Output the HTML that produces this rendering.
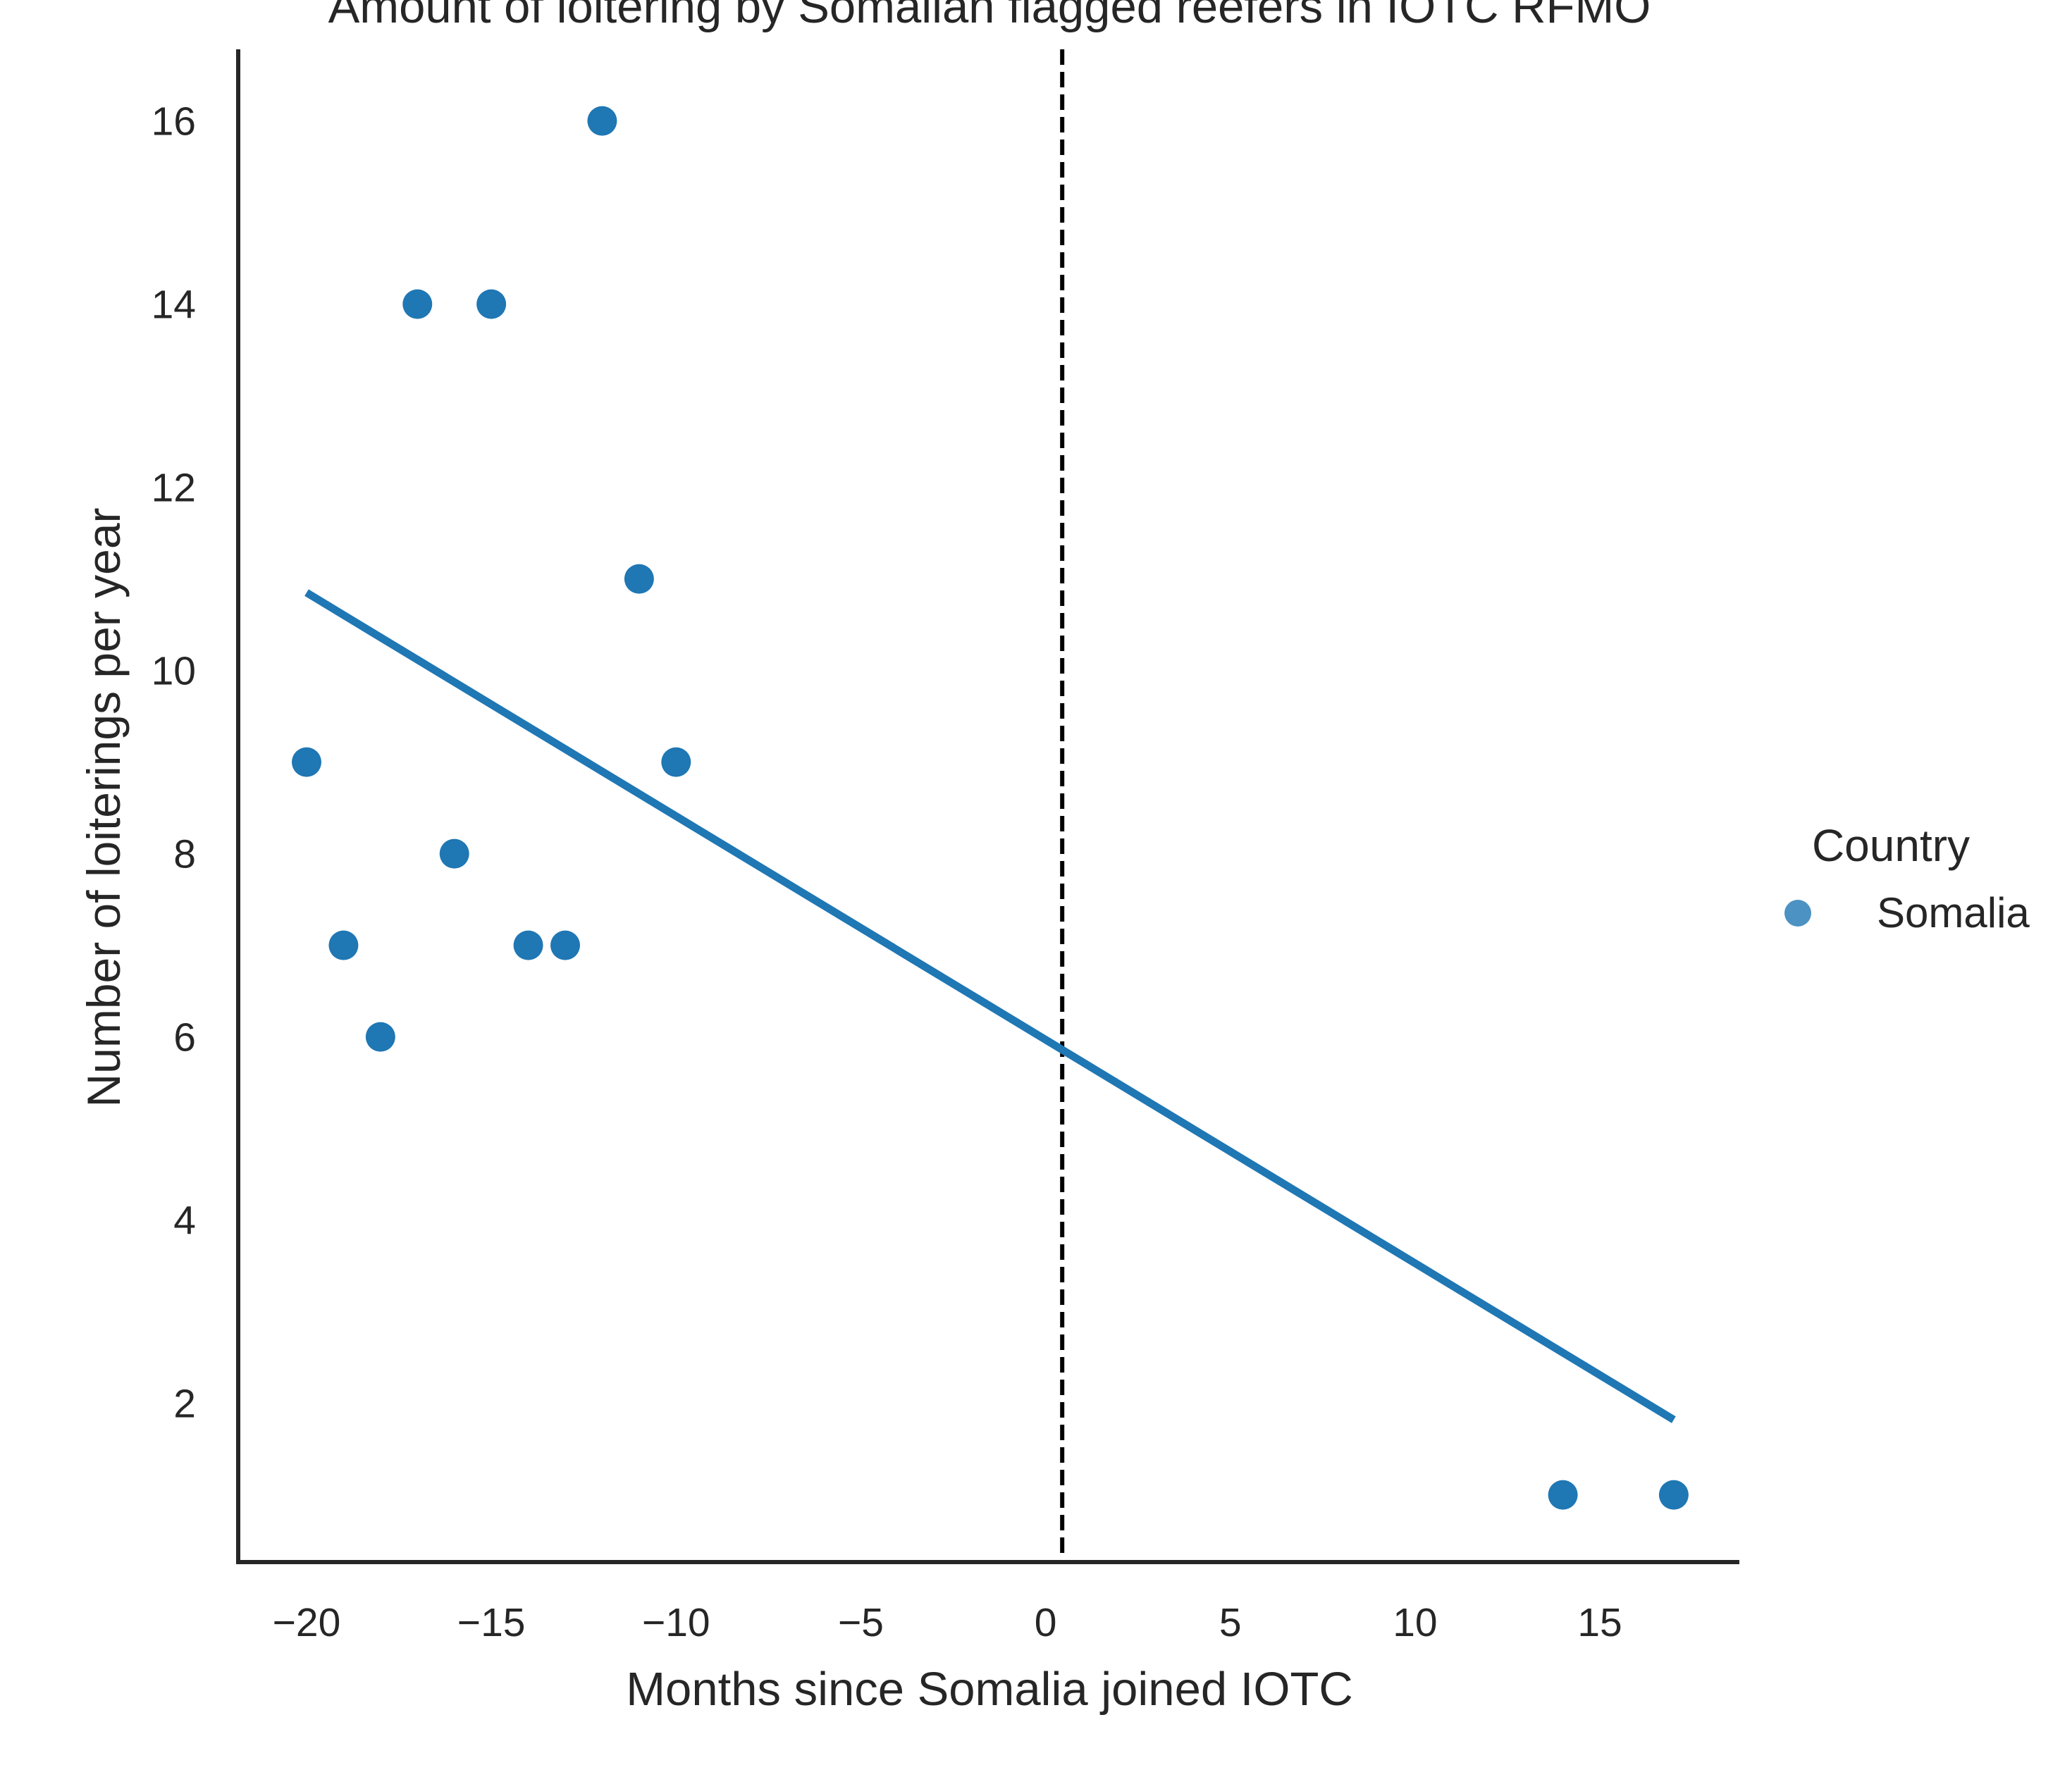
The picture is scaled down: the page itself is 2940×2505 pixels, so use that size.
<!DOCTYPE html>
<html><head><meta charset="utf-8"><style>
body{margin:0;background:#fff}
svg text{font-family:"Liberation Sans",Arial,sans-serif;fill:#262626}
</style></head><body>
<svg id="chart" width="2940" height="2500" viewBox="0 0 2940 2500" xmlns="http://www.w3.org/2000/svg">
<text x="1404" y="32" font-size="67" text-anchor="middle">Amount of loitering by Somalian flagged reefers in IOTC RFMO</text>
<g id="marks"></g>
<line x1="338" y1="70" x2="338" y2="2220" stroke="#262626" stroke-width="6"/>
<line x1="335" y1="2217" x2="2468" y2="2217" stroke="#262626" stroke-width="6"/>
<g id="ticks"></g>
<text x="1404" y="2420" font-size="67" text-anchor="middle">Months since Somalia joined IOTC</text>
<text transform="translate(170,1146) rotate(-90)" font-size="66" text-anchor="middle">Number of loiterings per year</text>
<text x="2683" y="1222" font-size="64" text-anchor="middle">Country</text>
<circle cx="2551" cy="1296" r="19" fill="#1f77b4" opacity="0.8"/>
<text x="2663" y="1316" font-size="60">Somalia</text>
</svg>
<script>
const months = [-20,-19,-18,-17,-16,-15,-14,-13,-12,-11,-10,14,17];
const loiterings = [9,7,6,14,8,14,7,7,16,11,9,1,1];
const fitStart = [-20,10.85];
const fitEnd = [17,1.82];
const xTicks = [-20,-15,-10,-5,0,5,10,15];
const yTicks = [2,4,6,8,10,12,14,16];
const joinMonth = 0.45;
const xs = v => 1483.6 + v*52.43;
const ys = v => 2251.6 - v*130.0;
const NS = "http://www.w3.org/2000/svg";
const marks = document.getElementById('marks');
const ticks = document.getElementById('ticks');
function mk(tag, attrs, parent){const e=document.createElementNS(NS,tag);for(const k in attrs)e.setAttribute(k,attrs[k]);parent.appendChild(e);return e;}
let dl = mk('line',{x1:xs(joinMonth),x2:xs(joinMonth),y1:70,y2:2217,stroke:'#000','stroke-width':6,'stroke-dasharray':'22,10'},marks);


let fl = mk('line',{x1:xs(fitStart[0]),y1:ys(fitStart[1]),x2:xs(fitEnd[0]),y2:ys(fitEnd[1]),stroke:'#1f77b4','stroke-width':11},marks);


months.forEach((m,i)=>{
  const c = mk('circle',{cx:xs(m),cy:ys(loiterings[i]),r:21,fill:'#1f77b4'},marks);
  
  
});
xTicks.forEach(t=>{
  const e = mk('text',{x:xs(t),y:2322,'font-size':57,'text-anchor':'middle'},ticks);
  e.textContent = t<0 ? '\u2212'+(-t) : String(t);
  
  
});
yTicks.forEach(t=>{
  const e = mk('text',{x:278,y:ys(t)+20,'font-size':57,'text-anchor':'end'},ticks);
  e.textContent = String(t);
  
  
});
</script>
</body></html>
